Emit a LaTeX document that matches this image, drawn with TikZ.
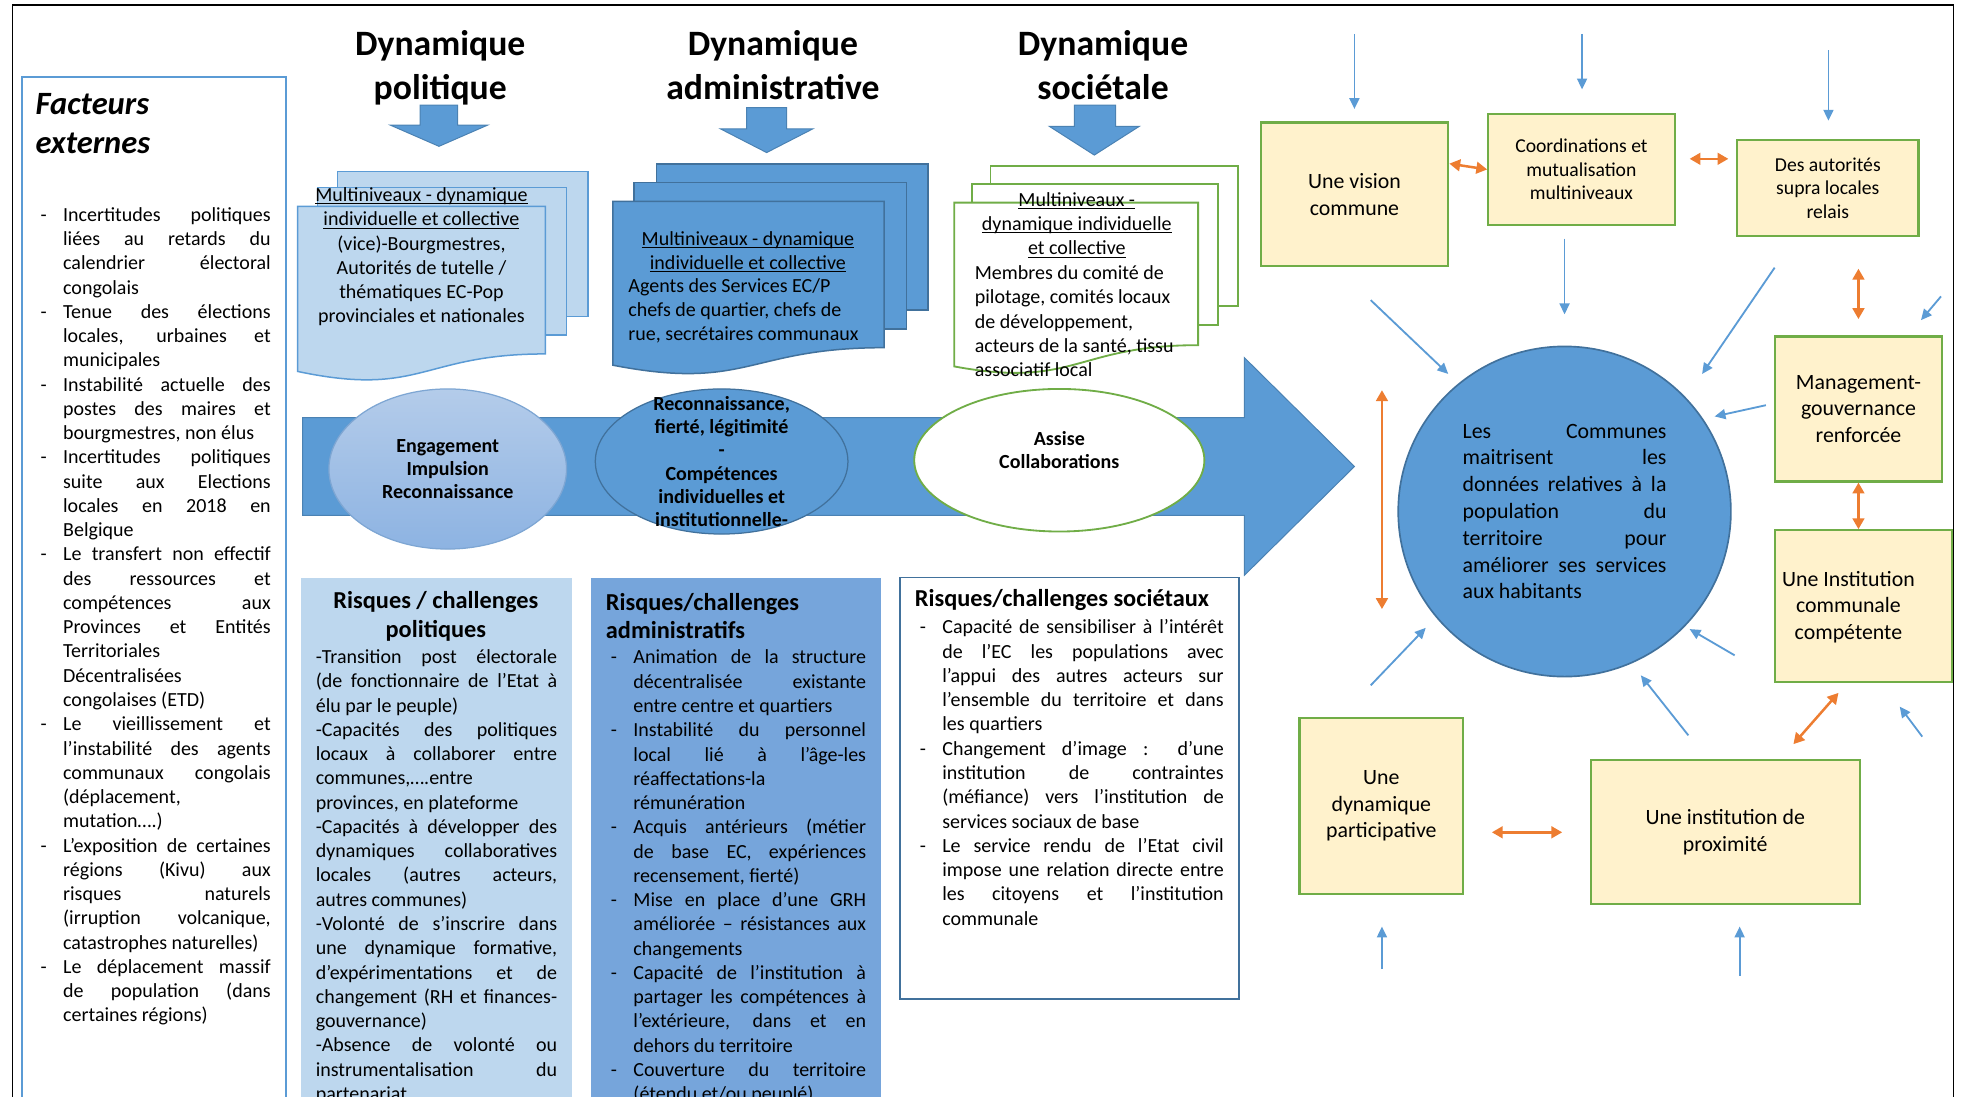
\documentclass[tikz,border=0pt]{standalone}
\usepackage{fontspec}
\setmainfont{Carlito}
\usetikzlibrary{shapes.geometric,arrows.meta,positioning}

\definecolor{bleuA}{HTML}{5B9BD5}
\definecolor{bleuB}{HTML}{41719C}
\definecolor{bleuC}{HTML}{BDD7EE}
\definecolor{bleuE}{HTML}{B4CCEA}
\definecolor{bleuF}{HTML}{8DB3E2}
\definecolor{bleuG}{HTML}{7EA6D3}
\definecolor{bleuH}{HTML}{76A5DB}
\definecolor{vert}{HTML}{70AD47}
\definecolor{jaune}{HTML}{FFF2CC}
\definecolor{orangeF}{HTML}{ED7D31}

\setlength{\parindent}{0pt}
\hbadness=10000 \hfuzz=3pt \tolerance=10000 \hyphenpenalty=10000

\newcommand{\fcorps}{\fontsize{12pt}{14.55pt}\selectfont}
\newcommand{\ftitre}{\fontsize{21.4pt}{26.25pt}\selectfont\bfseries}
\newcommand{\ffacteurs}{\fontsize{19.5pt}{23.25pt}\selectfont\bfseries\itshape}
\newcommand{\frisque}{\fontsize{14.6pt}{17.25pt}\selectfont\bfseries}
\newcommand{\fbulle}{\fontsize{12pt}{13.95pt}\selectfont\bfseries}
\newcommand{\fboite}{\fontsize{13.1pt}{15.9pt}\selectfont}
\newcommand{\fboitep}{\fontsize{11.8pt}{14.25pt}\selectfont}
\newcommand{\fcercle}{\fontsize{13.1pt}{16.05pt}\selectfont}

\newcommand{\souligne}[1]{\setbox0=\hbox{#1}\rlap{\rule[-1.6pt]{\wd0}{0.6pt}}\box0}
\newcommand{\tiret}{\par\noindent\hangindent=16.5pt\hangafter=1\hbox to 16.5pt{\hspace{3pt}-\hfil}\ignorespaces}

\tikzset{every picture/.style={line width=0.75pt},
	flecheBloc/.style={fill=bleuA, draw=bleuB!60!bleuA, line width=0.6pt},
	docPol/.style={fill=bleuC, draw=bleuA, line width=0.9pt},
	docAdm/.style={fill=bleuA, draw=bleuB, line width=0.9pt},
	docSoc/.style={fill=white, draw=vert, line width=1.1pt},
	boite/.style={draw=vert, fill=jaune, line width=1.3pt, inner sep=0pt, align=center, font=\fboite},
	corps/.style={font=\fcorps, align=justify, inner sep=0pt, anchor=north west},
	flecheBleue/.style={draw=bleuA, line width=1.1pt, -{Triangle[length=6.5pt,width=6pt]}},
	flecheOrange/.style={draw=orangeF, line width=1.5pt, {Triangle[length=6.5pt,width=7pt]}-{Triangle[length=6.5pt,width=7pt]}}}

\begin{document}
\begin{tikzpicture}[x=0.75pt,y=0.75pt,yscale=-1,xscale=1]
	\useasboundingbox (0,0) rectangle (1568,877);
	\clip (0,0) rectangle (1568,877);

	% Facteurs externes
	\node [draw=bleuA, line width=0.9pt, anchor=north west, minimum width=158.25pt, minimum height=640pt, inner sep=0pt] (facteurs) at (17,61) {};
	\node [font=\ffacteurs, align=left, anchor=west, inner sep=0pt] (facteursTitre) at (28,99) {Facteurs\\externes};
	\node [corps, text width=141pt] (facteursTxt) at (28,157) {%
		\tiret Incertitudes politiques\linebreak liées au retards du\linebreak calendrier électoral\linebreak congolais
		\tiret Tenue des élections\linebreak locales, urbaines et\linebreak municipales
		\tiret Instabilité actuelle des\linebreak postes des maires et\linebreak bourgmestres, non élus
		\tiret Incertitudes politiques\linebreak suite aux Elections\linebreak locales en 2018 en\linebreak Belgique
		\tiret Le transfert non effectif\linebreak des ressources et\linebreak compétences aux\linebreak Provinces et Entités\linebreak Territoriales\linebreak Décentralisées\linebreak congolaises (ETD)
		\tiret Le vieillissement et\linebreak l’instabilité des agents\linebreak communaux congolais\linebreak (déplacement,\linebreak mutation….)
		\tiret L’exposition de certaines\linebreak régions (Kivu) aux\linebreak risques naturels\linebreak (irruption volcanique,\linebreak catastrophes naturelles)
		\tiret Le déplacement massif\linebreak de population (dans\linebreak certaines régions)\par};

	% Titres des dynamiques
	\node [font=\ftitre, align=center] (dynPol) at (352,54) {Dynamique\\politique};
	\node [font=\ftitre, align=center] (dynAdm) at (618,52) {Dynamique\\administrative};
	\node [font=\ftitre, align=center] (dynSoc) at (882,52) {Dynamique\\sociétale};

	% Fleches vers le bas
	\draw [flecheBloc] (336,84) -- (366,84) -- (366,100) -- (390,100) -- (351,117) -- (312,100) -- (336,100) -- cycle ;
	\draw [flecheBloc] (597,86) -- (629,86) -- (629,103) -- (650,103) -- (613,122) -- (576,103) -- (597,103) -- cycle ;
	\draw [flecheBloc] (859,84) -- (892,84) -- (892,101) -- (911,101) -- (875,124) -- (839,101) -- (859,101) -- cycle ;

	% Documents politiques
	\draw [docPol] (270,137) rectangle (470,253) ;
	\draw [docPol] (254,150) rectangle (453,268) ;
	\draw [docPol] (238,165) -- (436,165) -- (436,283) .. controls (337,283) and (337,318) .. (238,297) -- cycle ;
	\node [font=\fcorps, align=center] (docPolTxt) at (337,205.5) {\souligne{Multiniveaux - dynamique}\\ \souligne{individuelle et collective}\\(vice)-Bourgmestres,\\Autorités de tutelle /\\thématiques EC-Pop\\provinciales et nationales};

	% Documents administratifs
	\draw [docAdm] (525,131) rectangle (742,248) ;
	\draw [docAdm] (507,146) rectangle (725,263) ;
	\draw [docAdm] (490,161) -- (707,161) -- (707,278) .. controls (598,278) and (598,313) .. (490,292) -- cycle ;
	\node [font=\fcorps, align=center] (docAdmTitre) at (598,201.5) {\souligne{Multiniveaux - dynamique}\\ \souligne{individuelle et collective}};
	\node [font=\fcorps, align=left, anchor=north west, inner sep=0pt] (docAdmTxt) at (502,222) {Agents des Services EC/P\\chefs de quartier, chefs de\\rue, secrétaires communaux};

	% Documents societaux
	\draw [docSoc] (792,133) rectangle (990,245) ;
	\draw [docSoc] (777,147) rectangle (974,260) ;
	\draw [docSoc] (763,162) -- (958,162) -- (958,276) .. controls (860,276) and (860,311) .. (763,293) -- cycle ;
	\node [font=\fcorps, align=center] (docSocTitre) at (861,180) {\souligne{Multiniveaux -}\\ \souligne{dynamique individuelle}\\ \souligne{et collective}};
	\node [font=\fcorps, align=left, anchor=north west, inner sep=0pt] (docSocTxt) at (779,212) {Membres du comité de\\pilotage, comités locaux\\de développement,\\acteurs de la santé, tissu\\associatif local};

	% Grande fleche
	\draw [flecheBloc] (242,334) -- (995,334) -- (995,286) -- (1083,373) -- (995,460) -- (995,412) -- (242,412) -- cycle ;

	% Bulles
	\node [ellipse, minimum width=142.5pt, minimum height=96pt, inner sep=0pt, top color=bleuE, bottom color=bleuF, draw=bleuG, font=\fbulle, align=center] (bulle1) at (358,375) {Engagement\\Impulsion\\Reconnaissance};
	\node [ellipse, minimum width=151.5pt, minimum height=87pt, inner sep=0pt, fill=bleuA, draw=bleuB] (bulle2) at (577,369) {};
	\node [font=\fbulle, align=center] (bulle2Txt) at (577,369) {Reconnaissance,\\fierté, légitimité\\-\\Compétences\\individuelles et\\institutionnelle-};
	\node [ellipse, minimum width=174pt, minimum height=85.5pt, inner sep=0pt, fill=white, draw=vert, line width=1.1pt] (bulle3) at (847,368) {};
	\node [font=\fbulle, align=center] (bulle3Txt) at (847,360) {Assise\\Collaborations};

	% Risques politiques
	\node [fill=bleuC, anchor=north west, minimum width=162.75pt, minimum height=330pt, inner sep=0pt] (risquePol) at (240,462) {};
	\node [font=\frisque, align=center] (risquePolTitre) at (348.5,493) {Risques / challenges\\politiques};
	\node [corps, text width=144.75pt] (risquePolTxt) at (252,519) {%
		-Transition post électorale\linebreak (de fonctionnaire de l’Etat à\linebreak élu par le peuple)\par
		-Capacités des politiques\linebreak locaux à collaborer entre\linebreak communes,….entre\linebreak provinces, en plateforme\par
		-Capacités à développer des\linebreak dynamiques collaboratives\linebreak locales (autres acteurs,\linebreak autres communes)\par
		-Volonté de s’inscrire dans\linebreak une dynamique formative,\linebreak d’expérimentations et de\linebreak changement (RH et finances-\linebreak gouvernance)\par
		-Absence de volonté ou\linebreak instrumentalisation du\linebreak partenariat\par};

	% Risques administratifs
	\node [fill=bleuH, anchor=north west, minimum width=174pt, minimum height=330pt, inner sep=0pt] (risqueAdm) at (472,462) {};
	\node [font=\frisque, align=left, anchor=west, inner sep=0pt] (risqueAdmTitre) at (484,492.5) {Risques/challenges\\administratifs};
	\node [corps, text width=156pt] (risqueAdmTxt) at (484,511) {%
		\tiret Animation de la structure\linebreak décentralisée existante\linebreak entre centre et quartiers
		\tiret Instabilité du personnel\linebreak local lié à l’âge-les\linebreak réaffectations-la\linebreak rémunération
		\tiret Acquis antérieurs (métier\linebreak de base EC, expériences\linebreak recensement, fierté)
		\tiret Mise en place d’une GRH\linebreak améliorée – résistances aux\linebreak changements
		\tiret Capacité de l’institution à\linebreak partager les compétences à\linebreak l’extérieure, dans et en\linebreak dehors du territoire
		\tiret Couverture du territoire\linebreak (étendu et/ou peuplé)\par};

	% Risques societaux
	\node [draw=bleuB, fill=white, line width=1pt, anchor=north west, minimum width=203.25pt, minimum height=252.75pt, inner sep=0pt] (risqueSoc) at (719,461) {};
	\node [font=\frisque, anchor=west, inner sep=0pt] (risqueSocTitre) at (731,480) {Risques/challenges sociétaux};
	\node [corps, text width=185.25pt] (risqueSocTxt) at (731,487) {%
		\tiret Capacité de sensibiliser à l’intérêt\linebreak de l’EC les populations avec\linebreak l’appui des autres acteurs sur\linebreak l’ensemble du territoire et dans\linebreak les quartiers
		\tiret Changement d’image : d’une\linebreak institution de contraintes\linebreak (méfiance) vers l’institution de\linebreak services sociaux de base
		\tiret Le service rendu de l’Etat civil\linebreak impose une relation directe entre\linebreak les citoyens et l’institution\linebreak communale\par};

	% Communes
	\node [ellipse, fill=bleuA, draw=bleuB, line width=1pt, minimum width=199.5pt, minimum height=198pt, inner sep=0pt, text width=122.25pt, align=justify, font=\fcercle] (commune) at (1251,409) {Les Communes\linebreak maitrisent les\linebreak données relatives à la\linebreak population du\linebreak territoire pour\linebreak améliorer ses services\linebreak aux habitants};

	% Boites
	\node [boite, minimum width=112.5pt, minimum height=86.25pt] (vision) at (1083,155.5) {Une vision\\commune};
	\node [boite, font=\fboitep, minimum width=111.75pt, minimum height=66.75pt] (coord) at (1264.5,135.5) {Coordinations et\\mutualisation\\multiniveaux};
	\node [boite, font=\fboitep, minimum width=108.75pt, minimum height=57.75pt] (autor) at (1461.5,150.5) {Des autorités\\supra locales\\relais};
	\node [boite, minimum width=100.5pt, minimum height=87pt] (mgmt) at (1486,327) {Management-\\gouvernance\\renforcée};
	\node [boite, minimum width=106.5pt, minimum height=90.75pt] (instit) at (1490,484.5) {};
	\node [font=\fboite, align=center] (institTxt) at (1478,485.5) {Une Institution\\communale\\compétente};
	\node [boite, minimum width=98.25pt, minimum height=105.75pt] (partic) at (1104.5,644.5) {Une\\dynamique\\participative};
	\node [boite, minimum width=161.25pt, minimum height=86.25pt] (prox) at (1379.5,665.5) {Une institution de\\proximité};

	% Points libres
	\coordinate (b1) at (1083,27);
	\coordinate (b2) at (1265,27);
	\coordinate (b3) at (1462,40);
	\coordinate (b5a) at (1096,240);
	\coordinate (b5b) at (1158,299);
	\coordinate (b6a) at (1419,214);
	\coordinate (b6b) at (1361,299);
	\coordinate (b7a) at (1552,237);
	\coordinate (b7b) at (1536,256);
	\coordinate (b8a) at (1412,324);
	\coordinate (b8b) at (1371,333);
	\coordinate (b9a) at (1387,524);
	\coordinate (b9b) at (1351,503);
	\coordinate (b10a) at (1096,548);
	\coordinate (b10b) at (1140,502);
	\coordinate (b11a) at (1350,588);
	\coordinate (b11b) at (1312,540);
	\coordinate (b12a) at (1537,589);
	\coordinate (b12b) at (1519,565);
	\coordinate (b13) at (1105,775);
	\coordinate (b14) at (1391,780);
	\coordinate (o2a) at (1351,127);
	\coordinate (o2b) at (1382,127);
	\coordinate (o5a) at (1105,312);
	\coordinate (o5b) at (1105,487);
	\coordinate (o6a) at (1470,554);
	\coordinate (o6b) at (1434,595);

	% Connection
	\draw [flecheBleue, shorten >=7.5pt] (b1) -- (vision.north) ;
	\draw [flecheBleue, shorten >=14pt] (b2) -- (b2 |- coord.north) ;
	\draw [flecheBleue, shorten >=11pt] (b3) -- (b3 |- autor.north) ;
	\draw [flecheBleue, shorten <=7.5pt, shorten >=18.75pt] (coord.south -| commune.north) -- (commune.north) ;
	\draw [flecheBleue] (b5a) -- (b5b) ;
	\draw [flecheBleue] (b6a) -- (b6b) ;
	\draw [flecheBleue] (b7a) -- (b7b) ;
	\draw [flecheBleue] (b8a) -- (b8b) ;
	\draw [flecheBleue] (b9a) -- (b9b) ;
	\draw [flecheBleue] (b10a) -- (b10b) ;
	\draw [flecheBleue] (b11a) -- (b11b) ;
	\draw [flecheBleue] (b12a) -- (b12b) ;
	\draw [flecheBleue, shorten >=18.75pt] (b13) -- (b13 |- partic.south) ;
	\draw [flecheBleue, shorten >=12.75pt] (b14) -- (b14 |- prox.south) ;

	% Connection
	\draw [flecheOrange] (vision.18) -- (coord.west) ;
	\draw [flecheOrange] (o2a) -- (o2b) ;
	\draw [flecheOrange, shorten <=18.75pt, shorten >=9.75pt] (autor.south -| mgmt.north) -- (mgmt.north) ;
	\draw [flecheOrange] (mgmt.south) -- (mgmt.south |- instit.north) ;
	\draw [flecheOrange] (o5a) -- (o5b) ;
	\draw [flecheOrange] (o6a) -- (o6b) ;
	\draw [flecheOrange, shorten <=16.5pt, shorten >=16.5pt] (prox.west -| partic.east) -- (prox.west) ;

	% Cadre
	\draw [line width=1pt] (10,877) -- (10,4) -- (1562,4) -- (1562,877) ;
\end{tikzpicture}
\end{document}
